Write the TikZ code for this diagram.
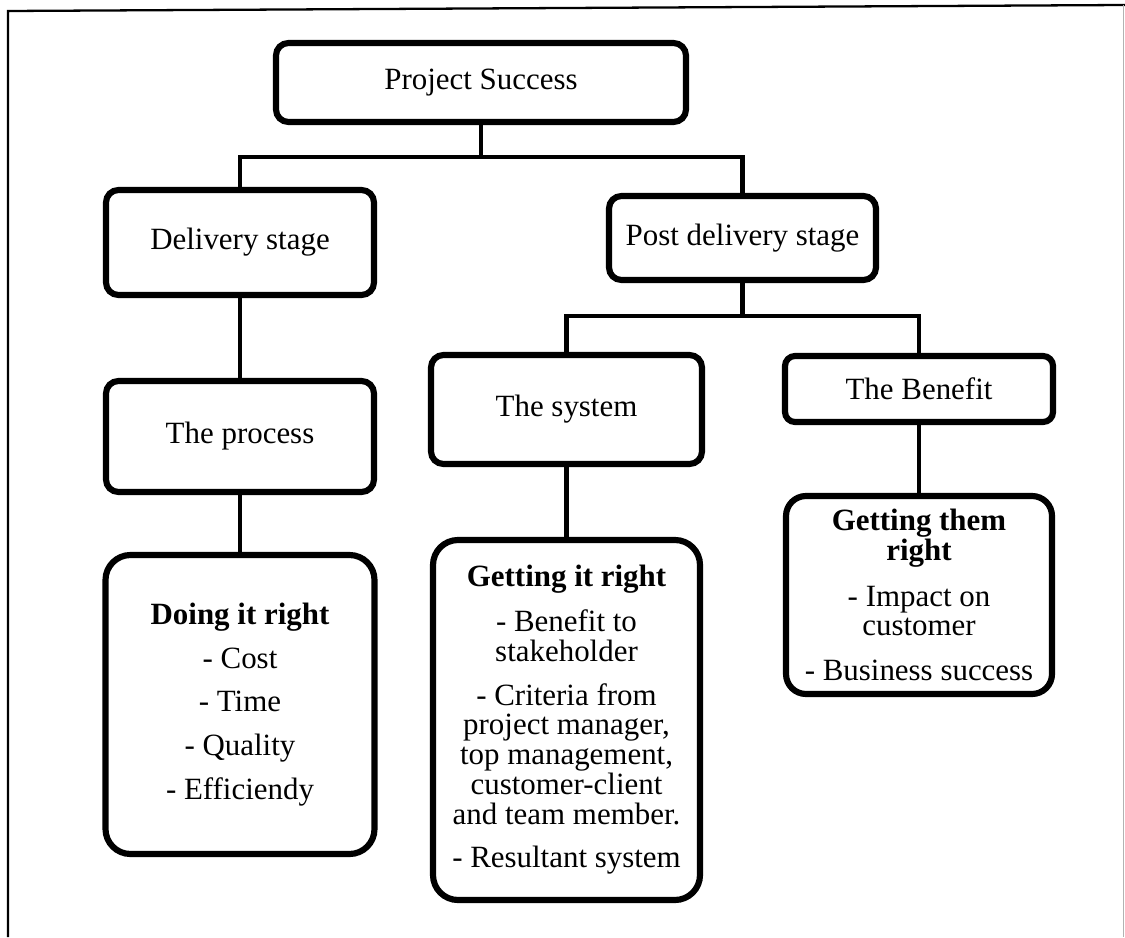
\documentclass[tikz,border=0pt]{standalone}
\usepackage{fontspec}
\setmainfont{Liberation Serif}
\usepackage{tikz}
\usetikzlibrary{positioning,calc}
\tikzstyle{stage} = [rectangle, rounded corners=2.5mm, draw=black, line width=3.5pt, text centered, align=center, fill=white, font=\fontsize{17.6}{17}\selectfont]
\tikzstyle{outcome} = [stage, rounded corners=5mm]
\tikzstyle{link} = [line width=2.3pt, draw=black]
\tikzstyle{frame} = [line width=1.3pt, draw=black]

\begin{document}
\begin{tikzpicture}
        \useasboundingbox (0,0) rectangle (22.5,-18.74);
        % Frame ------------------------------------------------------------------------------------
        \draw[frame] (0.16,-18.74) -- (0.16,-0.22) -- (22.5,-0.1);
        \draw[frame, draw=gray!60, line width=0.6pt] (22.47,-0.1) -- (22.47,-18.74);
        % Top --------------------------------------------------------------------------------------
        \node[stage, minimum width=8.2cm, minimum height=1.58cm](success) at (9.62,-1.65){Project Success};
        % Delivery ---------------------------------------------------------------------------------
        \node[stage, minimum width=5.36cm, minimum height=2.1cm](delivery) at (4.8,-4.85){Delivery stage};
        \node[stage, minimum width=5.36cm, minimum height=2.22cm](process) at (4.8,-8.73){The process};
        \node[outcome, minimum width=5.38cm, minimum height=5.98cm](doing) at (4.8,-14.09){\textbf{Doing it right}\\[0.28cm]
            - Cost\\[0.28cm] - Time\\[0.28cm] - Quality\\[0.28cm] - Efficiendy};
        % Post delivery ----------------------------------------------------------------------------
        \node[stage, minimum width=5.34cm, minimum height=1.68cm](post) at (14.85,-4.76){Post delivery stage};
        \node[stage, minimum width=5.42cm, minimum height=2.18cm](system) at (11.33,-8.19){The system};
        \node[stage, minimum width=5.36cm, minimum height=1.32cm, rounded corners=2mm](benefit) at (18.38,-7.78){The Benefit};
        \node[outcome, minimum width=5.34cm, minimum height=7.2cm](getting_it) at (11.33,-14.4){\textbf{Getting it right}\\[0.3cm]
            - Benefit to\\ stakeholder\\[0.27cm] - Criteria from\\ project manager,\\ top management,\\ customer-client\\ and team member.\\[0.27cm] - Resultant system};
        \node[outcome, minimum width=5.32cm, minimum height=3.96cm, rounded corners=4mm](getting_them) at (18.38,-11.9){\textbf{Getting them}\\ \textbf{right}\\[0.32cm]
            - Impact on\\ customer\\[0.3cm] - Business success};
        % Links ------------------------------------------------------------------------------------
        \coordinate (split_top) at (9.62,-3.14);
        \coordinate (split_post) at (14.85,-6.32);
        \draw[link] (success.south) -- (split_top);
        \draw[link] (delivery.north) |- (split_top) -| (post.north);
        \draw[link] (delivery.south) -- (process.north);
        \draw[link] (process.south) -- (doing.north);
        \draw[link] (post.south) -- (split_post);
        \draw[link] (system.north) |- (split_post) -| (benefit.north);
        \draw[link] (system.south) -- (getting_it.north);
        \draw[link] (benefit.south) -- (getting_them.north);
    \end{tikzpicture}
\end{document}
